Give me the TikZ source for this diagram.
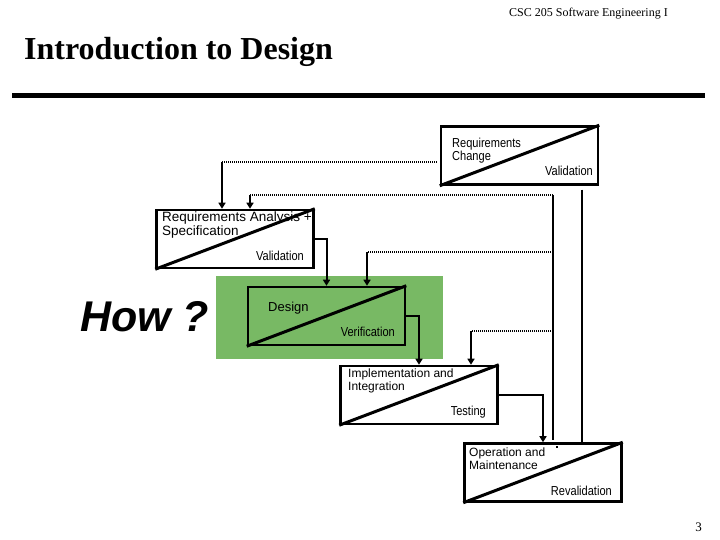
\documentclass[tikz,border=0pt]{standalone}
\usepackage{fontspec}
\setmainfont{Liberation Serif}
\newfontfamily\arialfont{Liberation Sans}
\newfontfamily\narrowfont[FakeStretch=0.85]{Liberation Sans}
\usetikzlibrary{arrows.meta}
\definecolor{designgreen}{RGB}{120,185,100}
\begin{document}
\begin{tikzpicture}[x=1pt, y=1pt,
    stage/.style={draw, rectangle, line width=2.5pt, minimum width=157pt, minimum height=58pt, inner sep=0pt},
    txt/.style={inner sep=0pt, align=left, font=\arialfont\fontsize{12}{13}\selectfont},
    sub/.style={inner sep=0pt, align=left, font=\narrowfont\fontsize{13}{12}\selectfont},
    flow/.style={line width=2pt, -{Triangle[width=7pt,length=6pt]}},
    back/.style={line width=1.3pt, dash pattern=on 1pt off 1pt}]
    \useasboundingbox (0,0) rectangle (720,540);

    \node[anchor=base east, inner sep=0pt, font=\fontsize{12}{14}\selectfont] (course) at (668,523) {CSC 205 Software Engineering I};
    \node[anchor=base west, inner sep=0pt, font=\bfseries\fontsize{32}{36}\selectfont] (title) at (24,480) {Introduction to Design};
    \draw[line width=5pt] (12,444) -- (705,444);

    \fill[designgreen] (216,181) rectangle (443,264);

    \node[stage] (RC) at (519.5,384.5) {};
    \node[stage] (RA) at (235,301) {};
    \node[stage] (D) at (326.5,224) {};
    \node[stage] (II) at (419,145) {};
    \node[stage] (OM) at (543,67.5) {};
    \foreach \n in {RC,RA,D,II,OM}
        \draw[line width=3pt] (\n.south west) -- (\n.north east);

    \node[sub, anchor=north west] (rctext) at (452,402.5) {Requirements\\Change};
    \node[sub, anchor=base east] (rcval) at (593,364) {Validation};
    \node[txt, anchor=north west, font=\arialfont\fontsize{13.5}{14}\selectfont] (ratext) at (162,328) {Requirements Analysis +\\Specification};
    \node[sub, anchor=base east] (raval) at (304,279) {Validation};
    \node[txt, anchor=base west, font=\arialfont\fontsize{13}{14}\selectfont] (dtext) at (268,228) {Design};
    \node[sub, anchor=base east] (dver) at (395,203) {Verification};
    \node[txt, anchor=north west] (iitext) at (348,171.6) {Implementation and\\Integration};
    \node[sub, anchor=base east] (iitest) at (486,124) {Testing};
    \node[txt, anchor=north west] (omtext) at (469,92.6) {Operation and\\Maintenance};
    \node[sub, anchor=base east] (omrev) at (612,44) {Revalidation};

    \node[anchor=base west, inner sep=0pt, font=\arialfont\bfseries\itshape\fontsize{43}{48}\selectfont] (how) at (80,208) {How ?};
    \node[anchor=base east, inner sep=0pt, font=\fontsize{13}{14}\selectfont] (page) at (702,8) {3};

    \coordinate (c1) at (222,378);
    \coordinate (c2) at (250,345);
    \coordinate (c3) at (553,345);
    \coordinate (c4) at (582,350);
    \coordinate (c5) at (367,288);
    \coordinate (c6) at (471,209);

    \draw[back, shorten <=3pt] (RC.west |- c1) -- (c1);
    \draw[flow] (c1) -- (c1 |- RA.north);
    \draw[back] (c3) -- (c2);
    \draw[flow] (c2) -- (c2 |- RA.north);
    \draw[back] (c3 |- c5) -- (c5);
    \draw[flow] (c5) -- (c5 |- D.north);
    \draw[back] (c3 |- c6) -- (c6);
    \draw[flow] (c6) -- (c6 |- II.north);
    \draw[line width=2pt, shorten >=2pt] (c3) -- (c3 |- OM.north);
    \draw[line width=2pt, shorten <=4pt] (RC.south -| c4) -- (OM.north -| c4);

    \draw[flow] (RA.east) -| (D.north);
    \draw[flow] (D.east) -| (II.north);
    \draw[flow] (II.east) -| (OM.north);

    \fill (556,94) rectangle (558,92);
\end{tikzpicture}
\end{document}
